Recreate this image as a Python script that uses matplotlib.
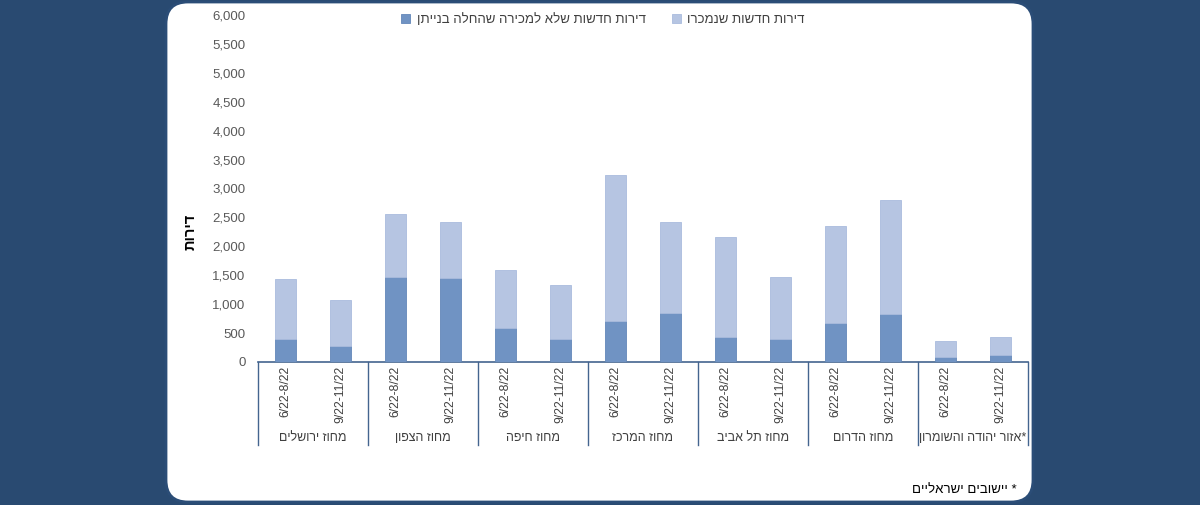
import matplotlib
matplotlib.use("Agg")
import matplotlib.pyplot as plt
import numpy as np
from matplotlib.patches import FancyBboxPatch
from matplotlib.lines import Line2D

plt.rcParams["font.family"] = ["Liberation Sans", "DejaVu Sans"]


def heb(s):
    """matplotlib has no bidi support: reverse Hebrew runs by hand."""
    return s[::-1]


# -------- Data ----------------------------------------------------------------
districts = ["מחוז ירושלים", "מחוז הצפון", "מחוז חיפה", "מחוז המרכז",
             "מחוז תל אביב", "מחוז הדרום", "אזור יהודה והשומרון"]
district_suffix = ["", "", "", "", "", "", "*"]
periods = ["6/22-8/22", "9/22-11/22"]

# total height of each stacked bar and its dark bottom part
total = [1435, 1072, 2554, 2416, 1591, 1337, 3239, 2426,
         2161, 1475, 2352, 2801, 363, 432]
not_for_sale = [392, 277, 1475, 1458, 582, 403, 709, 842,
                427, 392, 674, 825, 86, 121]
sold = [t - n for t, n in zip(total, not_for_sale)]

label_sold = "דירות חדשות שנמכרו"
label_unsold = "דירות חדשות שלא למכירה שהחלה בנייתן"
y_title = "דירות"
footnote = "יישובים ישראליים"

yticks = np.arange(0, 6001, 500)

# -------- Colours -------------------------------------------------------------
BG = "#294A71"
FRAME = "#2B4D77"
LIGHT = "#B6C5E2"
DARK = "#7093C3"
AXIS = "#44658F"
TICK_TXT = "#595959"
TXT = "#404040"

W, H = 1200, 505
fig = plt.figure(figsize=(W / 100, H / 100), dpi=100)
fig.patch.set_facecolor(BG)

# pixel-space background axes for the rounded white panel
bg = fig.add_axes([0, 0, 1, 1])
bg.set_xlim(0, W)
bg.set_ylim(H, 0)
bg.axis("off")
bg.add_patch(FancyBboxPatch((166, 2), 867, 500,
                            boxstyle="round,pad=0,rounding_size=22",
                            facecolor="white", edgecolor=FRAME, linewidth=2))

# -------- Main axes -----------------------------------------------------------
x0, x1 = 258, 1028
y0, y1 = 362, 15
ax = fig.add_axes([x0 / W, 1 - y0 / H, (x1 - x0) / W, (y0 - y1) / H])
ax.patch.set_alpha(0)

n = len(total)
x = np.arange(n)
bw = 0.38
ax.bar(x, not_for_sale, width=bw, color=DARK, edgecolor="#6387B9",
       linewidth=0.6, label=heb(label_unsold), zorder=3)
ax.bar(x, sold, bottom=not_for_sale, width=bw, color=LIGHT,
       edgecolor="#A9BBDD", linewidth=0.6, label=heb(label_sold), zorder=3)

ax.set_xlim(-0.5, n - 0.5)
ax.set_ylim(0, 6000)
ax.set_yticks(yticks)
ax.set_yticklabels([f"{v:,}" for v in yticks], fontsize=9.5, color=TICK_TXT)
ax.tick_params(axis="y", length=0, pad=9)
ax.set_xticks([])
for s in ["top", "right", "left"]:
    ax.spines[s].set_visible(False)
ax.spines["bottom"].set_color(AXIS)
ax.spines["bottom"].set_linewidth(1.2)

ax.set_ylabel(heb(y_title), fontsize=10.5, fontweight="bold", color="black")
ax.yaxis.set_label_coords((198 - x0) / (x1 - x0), (y0 - 232) / (y0 - y1))

# period labels (rotated) and district labels below
trans = ax.get_xaxis_transform()
for i in range(n):
    ax.text(i, -0.012, periods[i % 2], rotation=90, ha="center", va="top",
            fontsize=8.8, color=TXT, transform=trans, clip_on=False)
for g, name in enumerate(districts):
    ax.text(2 * g + 0.5, -0.22, heb(name) + district_suffix[g],
            ha="center", va="center", fontsize=9, color=TXT,
            transform=trans, clip_on=False)
for g in range(len(districts) + 1):
    ax.add_line(Line2D([2 * g - 0.5, 2 * g - 0.5], [0, -0.24],
                       transform=trans, color=AXIS, linewidth=1.0,
                       clip_on=False))

# legend (dark entry left, light entry right)
ax.legend(loc="center", bbox_to_anchor=(603 / W, 1 - 20 / H),
          bbox_transform=fig.transFigure, ncol=2, frameon=False,
          fontsize=9.5, handlelength=0.65, handleheight=0.65,
          handletextpad=0.5, columnspacing=2.0, labelcolor=TXT)

# footnote
fig.text(1017 / W, 1 - 490 / H, heb(footnote) + " *", ha="right",
         va="center", fontsize=9.5, color="black")

fig.savefig("out.png", dpi=100, facecolor=BG)
